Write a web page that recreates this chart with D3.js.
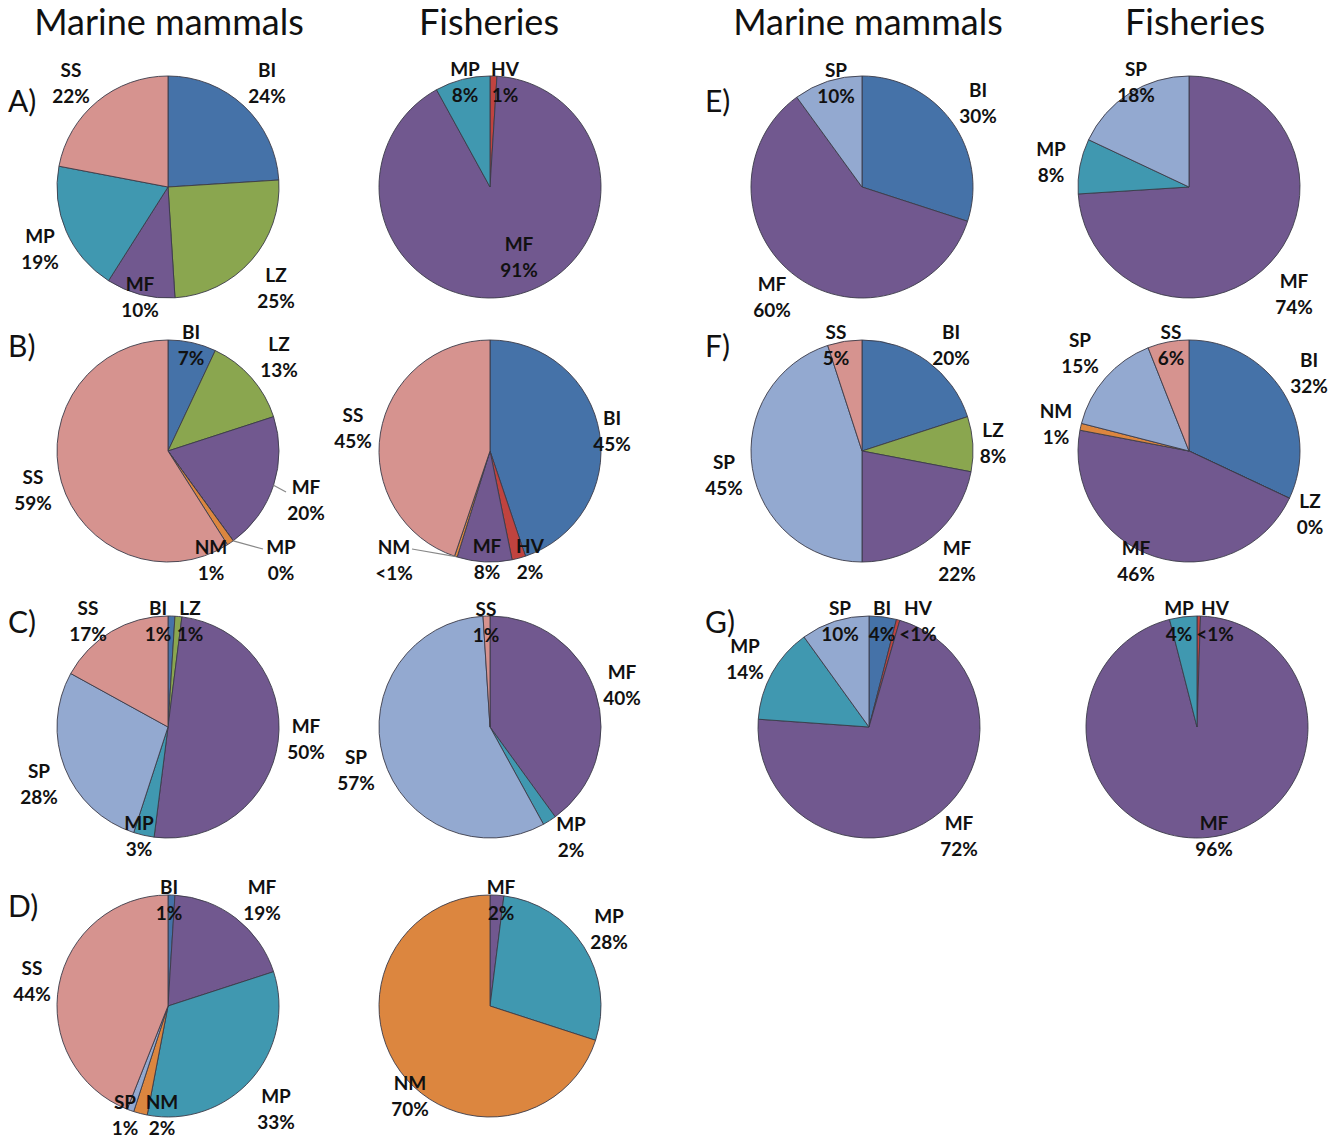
<!DOCTYPE html>
<html>
<head>
<meta charset="utf-8">
<script src="https://cdn.jsdelivr.net/npm/d3@7"></script>
<style>
  body { margin: 0; background: #fff; }
  text { font-family: Lato, "Open Sans", sans-serif; fill: #111; }
</style>
</head>
<body>
<script>
// ---- data (percent shares) ----
const aMammalCats = ["BI", "LZ", "MF", "MP", "SS"];
const aMammalVals = [24, 25, 10, 19, 22];
const aFishCats = ["HV", "MF", "MP"];
const aFishVals = [1, 91, 8];

const bMammalCats = ["BI", "LZ", "MF", "MP", "NM", "SS"];
const bMammalVals = [7, 13, 20, 0, 1, 59];
const bFishCats = ["BI", "HV", "MF", "NM", "SS"];
const bFishVals = [45, 2, 8, 0.4, 45];

const cMammalCats = ["BI", "LZ", "MF", "MP", "SP", "SS"];
const cMammalVals = [1, 1, 50, 3, 28, 17];
const cFishCats = ["MF", "MP", "SP", "SS"];
const cFishVals = [40, 2, 57, 1];

const dMammalCats = ["BI", "MF", "MP", "NM", "SP", "SS"];
const dMammalVals = [1, 19, 33, 2, 1, 44];
const dFishCats = ["MF", "MP", "NM"];
const dFishVals = [2, 28, 70];

const eMammalCats = ["BI", "MF", "SP"];
const eMammalVals = [30, 60, 10];
const eFishCats = ["MF", "MP", "SP"];
const eFishVals = [74, 8, 18];

const fMammalCats = ["BI", "LZ", "MF", "SP", "SS"];
const fMammalVals = [20, 8, 22, 45, 5];
const fFishCats = ["BI", "LZ", "MF", "NM", "SP", "SS"];
const fFishVals = [32, 0, 46, 1, 15, 6];

const gMammalCats = ["BI", "HV", "MF", "MP", "SP"];
const gMammalVals = [4, 0.5, 72, 14, 10];
const gFishCats = ["HV", "MF", "MP"];
const gFishVals = [0.5, 96, 4];

const columnTitles = ["Marine mammals", "Fisheries", "Marine mammals", "Fisheries"];
const panelLetters = ["A", "B", "C", "D", "E", "F", "G"];

const colors = {
  BI: "#4572a8", LZ: "#8aa64f", MF: "#71588f", MP: "#4098b0",
  NM: "#dc863f", SP: "#93a9d0", SS: "#d6938f", HV: "#c0433f"
};

// ---- layout ----
const R = 111;
const colX = [168, 490, 862, 1189];
const rowY = [187, 451, 727, 1006];
const titleY = 35;
const letterY = [112, 357, 633, 917];

// label block centres relative to each pie centre (same order as the categories)
const labelPos = {
  aM: [[99, -104], [108, 101], [-28, 110], [-128, 62], [-97, -104]],
  aF: [[15, -105], [29, 70], [-25, -105]],
  bM: [[23, -106], [111, -94], [138, 49], [113, 109], [43, 109], [-135, 39]],
  bF: [[122, -20], [40, 108], [-3, 108], [-96, 109], [-137, -23]],
  cM: [[-10, -106], [22, -106], [138, 12], [-29, 109], [-129, 57], [-80, -106]],
  cF: [[132, -42], [81, 110], [-134, 43], [-4, -105]],
  dM: [[1, -106], [94, -106], [108, 103], [-6, 109], [-43, 109], [-136, -25]],
  dF: [[11, -106], [119, -77], [-80, 90]],
  eM: [[116, -84], [-90, 110], [-26, -104]],
  eF: [[105, 107], [-138, -25], [-53, -105]],
  fM: [[89, -106], [131, -8], [95, 110], [-138, 24], [-26, -106]],
  fF: [[120, -78], [121, 63], [-53, 110], [-133, -27], [-109, -98], [-18, -106]],
  gM: [[13, -106], [49, -106], [90, 109], [-124, -68], [-29, -106]],
  gF: [[18, -106], [17, 109], [-18, -106]]
};
// leader lines: end point relative to pie centre
const leaders = {
  bM: { MF: [118, 41], MP: [95, 98] },
  bF: { NM: [-78, 98] }
};

const charts = [
  { key: "aM", cats: aMammalCats, vals: aMammalVals, col: 0, row: 0 },
  { key: "aF", cats: aFishCats, vals: aFishVals, col: 1, row: 0 },
  { key: "bM", cats: bMammalCats, vals: bMammalVals, col: 0, row: 1 },
  { key: "bF", cats: bFishCats, vals: bFishVals, col: 1, row: 1 },
  { key: "cM", cats: cMammalCats, vals: cMammalVals, col: 0, row: 2 },
  { key: "cF", cats: cFishCats, vals: cFishVals, col: 1, row: 2 },
  { key: "dM", cats: dMammalCats, vals: dMammalVals, col: 0, row: 3 },
  { key: "dF", cats: dFishCats, vals: dFishVals, col: 1, row: 3 },
  { key: "eM", cats: eMammalCats, vals: eMammalVals, col: 2, row: 0 },
  { key: "eF", cats: eFishCats, vals: eFishVals, col: 3, row: 0 },
  { key: "fM", cats: fMammalCats, vals: fMammalVals, col: 2, row: 1 },
  { key: "fF", cats: fFishCats, vals: fFishVals, col: 3, row: 1 },
  { key: "gM", cats: gMammalCats, vals: gMammalVals, col: 2, row: 2, dx: 7 },
  { key: "gF", cats: gFishCats, vals: gFishVals, col: 3, row: 2, dx: 8 }
];

const fmt = (v) => (v === 0 ? "0%" : v < 1 ? "<1%" : v + "%");

const svg = d3.select("body").append("svg")
  .attr("width", 1340)
  .attr("height", 1138);

// column titles
const titleX = [169, 489, 868, 1195];
svg.selectAll(".title")
  .data(columnTitles)
  .join("text")
  .attr("class", "title")
  .attr("x", (d, i) => titleX[i])
  .attr("y", titleY)
  .attr("text-anchor", "middle")
  .style("font-size", "36px")
  .text((d) => d);

// panel letters
const letterPos = [[0, 0], [0, 1], [0, 2], [0, 3], [1, 0], [1, 1], [1, 2]];
svg.selectAll(".letter")
  .data(panelLetters)
  .join("text")
  .attr("class", "letter")
  .attr("x", (d, i) => (letterPos[i][0] === 0 ? 8 : 705))
  .attr("y", (d, i) => letterY[letterPos[i][1]])
  .style("font-size", "30px")
  .text((d) => d + ")");

const pie = d3.pie().sort(null).value((d) => d.value);
const arc = d3.arc().innerRadius(0).outerRadius(R);

charts.forEach((c) => {
  const cx = colX[c.col] + (c.dx || 0);
  const cy = rowY[c.row];
  const rows = c.cats.map((cat, i) => ({ cat, value: c.vals[i] }));
  const arcs = pie(rows);
  const g = svg.append("g").attr("transform", `translate(${cx},${cy})`);

  g.selectAll("path.slice")
    .data(arcs)
    .join("path")
    .attr("class", "slice")
    .attr("d", arc)
    .attr("fill", (d) => colors[d.data.cat])
    .attr("stroke", "#3b3b48")
    .attr("stroke-width", 0.9)
    .attr("stroke-linejoin", "round");

  // leader lines
  const lead = leaders[c.key] || {};
  arcs.forEach((d) => {
    const end = lead[d.data.cat];
    if (!end) return;
    const a = (d.startAngle + d.endAngle) / 2;
    g.append("line")
      .attr("x1", R * Math.sin(a))
      .attr("y1", -R * Math.cos(a))
      .attr("x2", end[0])
      .attr("y2", end[1])
      .attr("stroke", "#888")
      .attr("stroke-width", 1.2);
  });

  const pos = labelPos[c.key];
  const lbl = g.selectAll("g.lbl")
    .data(arcs)
    .join("g")
    .attr("class", "lbl")
    .attr("transform", (d, i) => `translate(${pos[i][0]},${pos[i][1]})`);

  lbl.append("text")
    .attr("text-anchor", "middle")
    .attr("y", -6)
    .style("font-size", "19px")
    .style("font-weight", "bold")
    .text((d) => d.data.cat);

  lbl.append("text")
    .attr("text-anchor", "middle")
    .attr("y", 20)
    .style("font-size", "19px")
    .style("font-weight", "bold")
    .text((d) => fmt(d.data.value));
});
</script>
</body>
</html>
